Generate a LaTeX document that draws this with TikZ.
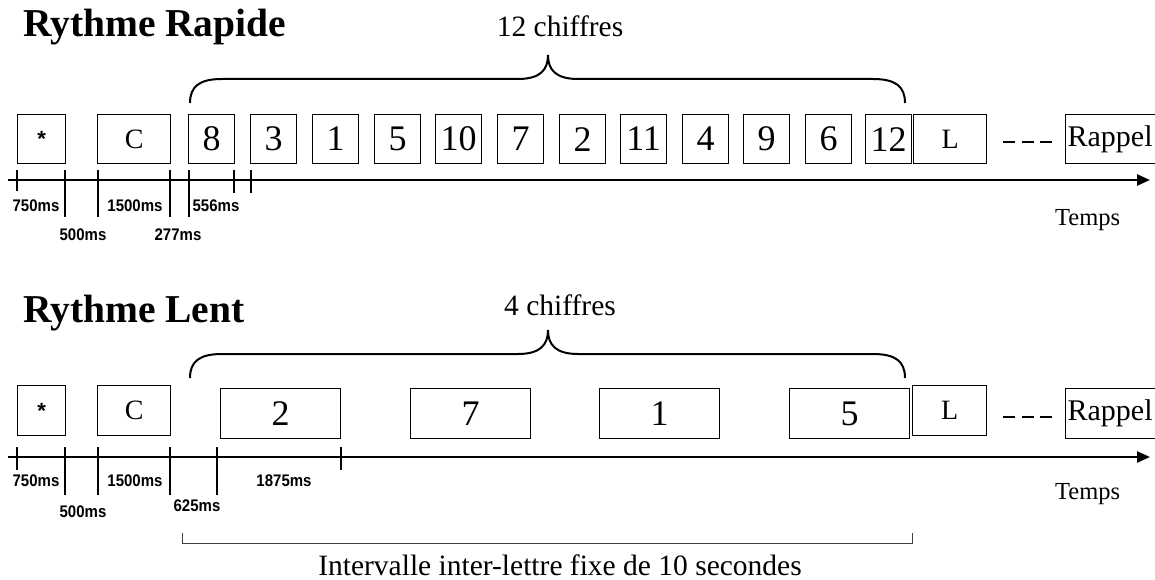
\documentclass[tikz,border=0pt]{standalone}
\usepackage{graphicx}
\usepackage{fontspec}
\setmainfont{Liberation Serif}
\newfontfamily\labfont{Liberation Sans}
\newcommand{\mslab}[1]{\scalebox{1}[1.12]{#1}}
\usetikzlibrary{arrows.meta}
\tikzset{
  box/.style={draw=black, line width=1.2pt, inner sep=0pt, anchor=north west},
  digit/.style={box, font=\fontsize{36}{40}\selectfont},
  letter/.style={box, font=\fontsize{28}{32}\selectfont},
  rappelbox/.style={box, font=\fontsize{30}{32}\selectfont, text width=104pt, align=left},
  star/.style={box, font=\labfont\bfseries\fontsize{22}{24}\selectfont},
  axis/.style={line width=2.4pt, -{Triangle[length=13pt,width=11pt]}},
  tick/.style={line width=2pt},
  ms/.style={font=\labfont\bfseries\fontsize{15}{16}\selectfont, inner sep=0pt},
  title/.style={font=\bfseries\fontsize{39.5}{42}\selectfont, anchor=base west, inner sep=0pt},
  capt/.style={font=\fontsize{29.5}{32}\selectfont, anchor=base, inner sep=0pt},
  temps/.style={font=\fontsize{24.5}{28}\selectfont, anchor=base west, inner sep=0pt},
  bracestyle/.style={line width=2pt},
  dots/.style={line width=2.4pt, dash pattern=on 12pt off 6.5pt},
}
\begin{document}
\begin{tikzpicture}[x=1pt,y=-1pt]
\useasboundingbox (0,0) rectangle (1155,580);
\clip (0,0) rectangle (1155,580);
\fill[white] (0,0) rectangle (1155,580);

% ================= Rythme Rapide =================
\node[title] (t1) at (23,37) {Rythme Rapide};
\node[capt] (c1) at (560,37) {12 chiffres};

% brace
\coordinate (b1l) at (190,103);
\coordinate (b1r) at (905,103);
\coordinate (b1t) at (548,55);
\draw[bracestyle] (b1l) .. controls (190,86) and (200,79) .. (222,79) -- (518,79)
  .. controls (540,79) and (548,70) .. (b1t)
  .. controls (548,70) and (556,79) .. (578,79) -- (873,79)
  .. controls (895,79) and (905,86) .. (b1r);

% boxes
\node[star, minimum width=48pt, minimum height=49pt] (s1) at (17,114) {*};
\node[letter, minimum width=73pt, minimum height=49pt] (cc1) at (97,114) {C};
\foreach \x/\d [count=\i] in {188/8,250/3,312/1,374/5,435/10,497/7,559/2,620/11,682/4,743/9,805/6,865/12}{
  \node[digit, minimum width=46pt, minimum height=49pt] (d1\i) at (\x,114) {\d};
}
\node[letter, minimum width=73pt, minimum height=49pt] (l1) at (913,114) {L};
\node[rappelbox, minimum width=110pt, minimum height=49pt] (r1) at (1065,114) {\raisebox{-3pt}{\hspace*{-1pt}Rappel}};
\coordinate (k1a) at (1003,142);
\coordinate (k1b) at (1052,142);
\draw[dots] (k1a) -- (k1b);

% axis
\coordinate (a1s) at (8,180);
\coordinate (a1e) at (1150,180);
\draw[axis] (a1s) -- (a1e);
\foreach \x/\b in {17/191,65/217,98/217,170/217,189/217,234/193,251/193}{
  \draw[tick] (\x,170) -- (\x,\b);
}
\node[ms] (m11) at (36,206) {\mslab{750ms}};
\node[ms] (m12) at (83,235) {\mslab{500ms}};
\node[ms] (m13) at (135,206) {\mslab{1500ms}};
\node[ms] (m14) at (178,235) {\mslab{277ms}};
\node[ms] (m15) at (216,206) {\mslab{556ms}};
\node[temps] (tp1) at (1055,225) {Temps};

% ================= Rythme Lent =================
\node[title] (t2) at (23,322) {Rythme Lent};
\node[capt] (c2) at (560,315) {4 chiffres};

\coordinate (b2l) at (190,378);
\coordinate (b2r) at (905,378);
\coordinate (b2t) at (548,330);
\draw[bracestyle] (b2l) .. controls (190,361) and (200,354) .. (222,354) -- (518,354)
  .. controls (540,354) and (548,345) .. (b2t)
  .. controls (548,345) and (556,354) .. (578,354) -- (873,354)
  .. controls (895,354) and (905,361) .. (b2r);

\node[star, minimum width=48pt, minimum height=50pt] (s2) at (17,385) {*};
\node[letter, minimum width=73pt, minimum height=50pt] (cc2) at (97,385) {C};
\foreach \x/\d [count=\i] in {220/2,410/7,599/1,789/5}{
  \node[digit, minimum width=120pt, minimum height=50pt] (d2\i) at (\x,388) {\d};
}
\node[letter, minimum width=74pt, minimum height=50pt] (l2) at (912,385) {L};
\node[rappelbox, minimum width=110pt, minimum height=50pt] (r2) at (1065,388) {\raisebox{-3pt}{\hspace*{-1pt}Rappel}};
\coordinate (k2a) at (1003,417);
\coordinate (k2b) at (1052,417);
\draw[dots] (k2a) -- (k2b);

\coordinate (a2s) at (8,457);
\coordinate (a2e) at (1150,457);
\draw[axis] (a2s) -- (a2e);
\foreach \x/\b in {17/470,65/495,98/495,170/495,217/495,341/470}{
  \draw[tick] (\x,447) -- (\x,\b);
}
\node[ms] (m21) at (36,481) {\mslab{750ms}};
\node[ms] (m22) at (83,512) {\mslab{500ms}};
\node[ms] (m23) at (135,481) {\mslab{1500ms}};
\node[ms] (m24) at (197,506) {\mslab{625ms}};
\node[ms] (m25) at (284,481) {\mslab{1875ms}};
\node[temps] (tp2) at (1055,499) {Temps};

% bottom bracket
\coordinate (q1) at (182,533);
\coordinate (q2) at (912,533);
\draw[line width=1pt, black!75] (q1) -- (182,543) -- (912,543) -- (q2);
\node[capt] (iv) at (560,575) {Intervalle inter-lettre fixe de 10 secondes};
\end{tikzpicture}
\end{document}
